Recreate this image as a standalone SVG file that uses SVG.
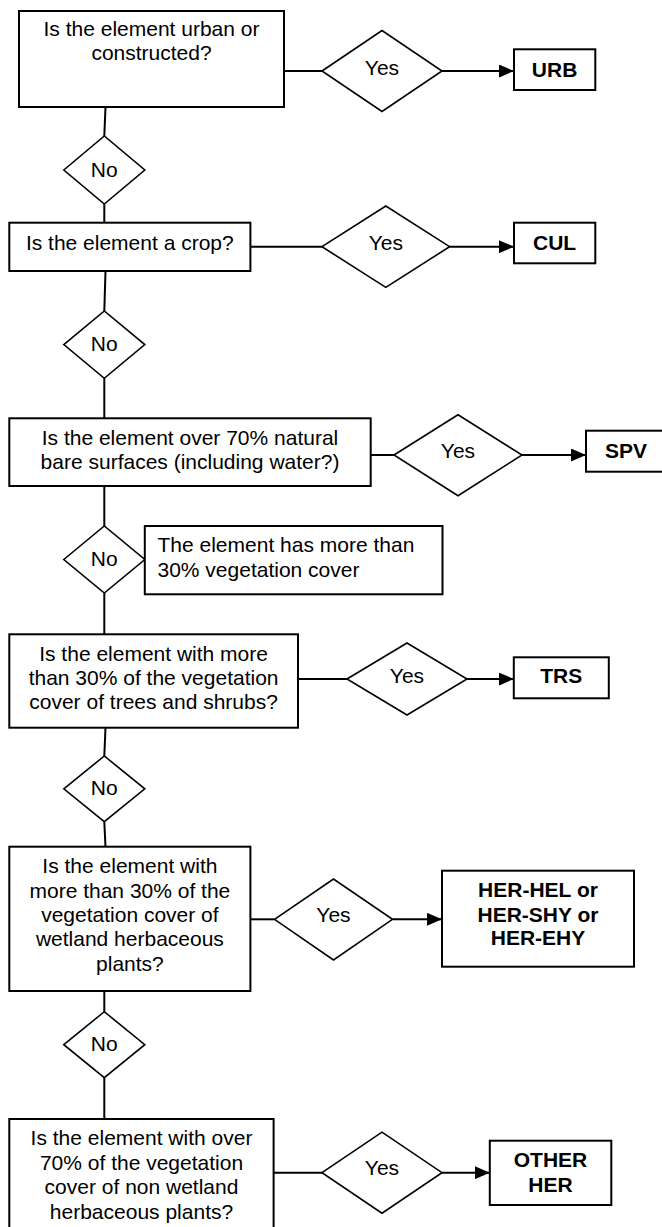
<svg xmlns="http://www.w3.org/2000/svg" width="662" height="1227" viewBox="0 0 662 1227">
<style>
.box{fill:#fff;stroke:#000;stroke-width:2}
.dia{fill:#fff;stroke:#000;stroke-width:1.6}
.t{font-family:"Liberation Sans",Arial,sans-serif;font-size:21px;fill:#000;text-anchor:middle}
.l{text-anchor:start}
.b{font-weight:bold}
.c{stroke:#000;stroke-width:2;fill:none}
.a{marker-end:url(#arr)}
</style>
<defs>
<marker id="arr" markerUnits="userSpaceOnUse" markerWidth="15" markerHeight="13" refX="15" refY="6.5" orient="auto">
<path d="M0,0 L15,6.5 L0,13 z" fill="#000"/>
</marker>
</defs>
<rect width="662" height="1227" fill="#fff"/>
<g id="connectors">
<line class="c" x1="284" y1="71" x2="322" y2="71"/>
<line class="c a" x1="442" y1="71" x2="514" y2="71"/>
<line class="c" x1="105.5" y1="107" x2="104.3" y2="136"/>
<line class="c" x1="104.3" y1="204" x2="104.3" y2="222.7"/>
<line class="c" x1="250.4" y1="246.7" x2="322" y2="246.7"/>
<line class="c a" x1="449.6" y1="246.7" x2="514" y2="246.7"/>
<line class="c" x1="105.5" y1="271" x2="104.3" y2="311"/>
<line class="c" x1="104.3" y1="378.3" x2="104.3" y2="418.3"/>
<line class="c" x1="370.7" y1="455" x2="394" y2="455"/>
<line class="c a" x1="522" y1="455" x2="586" y2="455"/>
<line class="c" x1="104.3" y1="486" x2="104.3" y2="526"/>
<line class="c" x1="104.3" y1="593" x2="104.3" y2="634.3"/>
<line class="c" x1="298" y1="679" x2="347" y2="679"/>
<line class="c a" x1="467" y1="679" x2="513.8" y2="679"/>
<line class="c" x1="105.5" y1="727.7" x2="104.3" y2="756"/>
<line class="c" x1="104.3" y1="821.7" x2="105.5" y2="846.7"/>
<line class="c" x1="250.4" y1="919.3" x2="274.5" y2="919.3"/>
<line class="c a" x1="392.5" y1="919.3" x2="442" y2="919.3"/>
<line class="c" x1="104.3" y1="991" x2="104.3" y2="1011.7"/>
<line class="c" x1="104.3" y1="1077.7" x2="104.3" y2="1119"/>
<line class="c" x1="273.6" y1="1172.7" x2="322" y2="1172.7"/>
<line class="c a" x1="442" y1="1172.7" x2="489.8" y2="1172.7"/>
</g>
<g id="q1">
<rect class="box" x="19" y="11" width="265" height="96"/>
<text class="t" x="151.5" y="35.7">Is the element urban or</text>
<text class="t" x="151.5" y="60">constructed?</text>
</g>
<g id="yes1"><polygon class="dia" points="322,71 382,30.5 442,71 382,111.5"/><text class="t" x="382" y="74.5">Yes</text></g>
<g id="urb"><rect class="box" x="514" y="49.3" width="81.3" height="40.7"/><text class="t b" x="554.6" y="77">URB</text></g>
<g id="no1"><polygon class="dia" points="63.8,170 104.3,136 144.8,170 104.3,204"/><text class="t" x="104.3" y="177">No</text></g>
<g id="q2">
<rect class="box" x="9.3" y="222.7" width="241.1" height="48.3"/>
<text class="t" x="129.8" y="250">Is the element a crop?</text>
</g>
<g id="yes2"><polygon class="dia" points="322,246.7 385.8,206 449.6,246.7 385.8,287.4"/><text class="t" x="385.8" y="250">Yes</text></g>
<g id="cul"><rect class="box" x="514" y="222.7" width="81.3" height="40.6"/><text class="t b" x="554.6" y="250">CUL</text></g>
<g id="no2"><polygon class="dia" points="63.8,344.6 104.3,311 144.8,344.6 104.3,378.3"/><text class="t" x="104.3" y="351">No</text></g>
<g id="q3">
<rect class="box" x="9.3" y="418.3" width="361.4" height="67.7"/>
<text class="t" x="190" y="445">Is the element over 70% natural</text>
<text class="t" x="190" y="468.5">bare surfaces (including water?)</text>
</g>
<g id="yes3"><polygon class="dia" points="394,455 458,414.7 522,455 458,495.7"/><text class="t" x="458" y="458.3">Yes</text></g>
<g id="spv"><rect class="box" x="586" y="430.7" width="80" height="41"/><text class="t b" x="626" y="457.5">SPV</text></g>
<g id="no3"><polygon class="dia" points="63.8,559.5 104.3,526 144.8,559.5 104.3,593"/><text class="t" x="104.3" y="566">No</text></g>
<g id="note">
<rect class="box" x="144.8" y="526" width="297.7" height="68.3"/>
<text class="t l" x="157.5" y="552">The element has more than</text>
<text class="t l" x="157.5" y="577">30% vegetation cover</text>
</g>
<g id="q4">
<rect class="box" x="9.3" y="634.3" width="288.7" height="93.4"/>
<text class="t" x="153.6" y="661">Is the element with more</text>
<text class="t" x="153.6" y="685">than 30% of the vegetation</text>
<text class="t" x="153.6" y="709.3">cover of trees and shrubs?</text>
</g>
<g id="yes4"><polygon class="dia" points="347,679 407,643 467,679 407,715"/><text class="t" x="407" y="683">Yes</text></g>
<g id="trs"><rect class="box" x="513.8" y="657.3" width="95" height="41"/><text class="t b" x="561.3" y="683">TRS</text></g>
<g id="no4"><polygon class="dia" points="63.8,788.8 104.3,756 144.8,788.8 104.3,821.7"/><text class="t" x="104.3" y="795">No</text></g>
<g id="q5">
<rect class="box" x="9.3" y="846.7" width="241.1" height="144.3"/>
<text class="t" x="129.9" y="873">Is the element with</text>
<text class="t" x="129.9" y="897.5">more than 30% of the</text>
<text class="t" x="129.9" y="922">vegetation cover of</text>
<text class="t" x="129.9" y="946">wetland herbaceous</text>
<text class="t" x="129.9" y="970.5">plants?</text>
</g>
<g id="yes5"><polygon class="dia" points="274.5,919.3 333.5,879 392.5,919.3 333.5,960"/><text class="t" x="333.5" y="922">Yes</text></g>
<g id="her">
<rect class="box" x="442" y="870.7" width="192" height="96"/>
<text class="t b" x="538" y="897">HER-HEL or</text>
<text class="t b" x="538" y="921.5">HER-SHY or</text>
<text class="t b" x="538" y="945">HER-EHY</text>
</g>
<g id="no5"><polygon class="dia" points="63.8,1044.7 104.3,1011.7 144.8,1044.7 104.3,1077.7"/><text class="t" x="104.3" y="1051">No</text></g>
<g id="q6">
<rect class="box" x="9.3" y="1119" width="264.3" height="120"/>
<text class="t" x="141.5" y="1145">Is the element with over</text>
<text class="t" x="141.5" y="1169.7">70% of the vegetation</text>
<text class="t" x="141.5" y="1194.3">cover of non wetland</text>
<text class="t" x="141.5" y="1219">herbaceous plants?</text>
</g>
<g id="yes6"><polygon class="dia" points="322,1172.7 382,1132.2 442,1172.7 382,1213.2"/><text class="t" x="382" y="1174.5">Yes</text></g>
<g id="other">
<rect class="box" x="489.8" y="1140.7" width="121.5" height="64.3"/>
<text class="t b" x="550.5" y="1166.5">OTHER</text>
<text class="t b" x="550.5" y="1191.7">HER</text>
</g>
</svg>
